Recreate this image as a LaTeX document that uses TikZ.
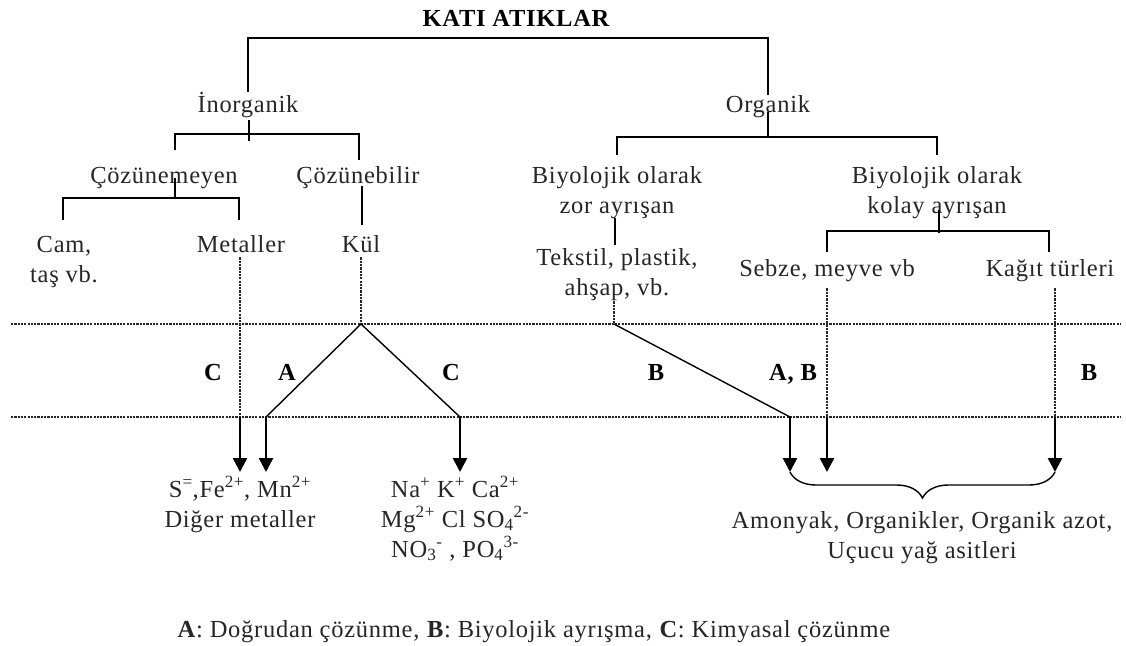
\documentclass[tikz,border=0pt]{standalone}
\usepackage{fontspec}
\setmainfont{Liberation Serif}[LetterSpace=3]
\usetikzlibrary{arrows.meta,decorations.pathreplacing}

\begin{document}
\begin{tikzpicture}[
    x=1pt, y=-1pt,
    txt/.style={font=\fontsize{24.5}{30}\selectfont, text=black!85, inner sep=0pt, align=center, anchor=base},
    tag/.style={font=\fontsize{24.5}{30}\selectfont\bfseries, text=black, inner sep=0pt, anchor=base},
    branch/.style={line width=1.4pt},
    flow/.style={line width=1.8pt, black!85, dash pattern=on 2.2pt off 1.1pt},
    level/.style={line width=1.8pt, black!85, dash pattern=on 2.2pt off 1.1pt},
    slant/.style={line width=1.4pt},
    outlet/.style={line width=2.6pt, -{Triangle[width=14pt,length=14pt]}}
]
\useasboundingbox (0,0) rectangle (1126,645);

% tree (multi-line nodes sit on their last line)
\node[tag] (top) at (516,27) {KATI ATIKLAR};
\node[txt] (inorg) at (248,112) {İnorganik};
\node[txt] (org) at (768,112) {Organik};
\node[txt] (coz) at (164,183) {Çözünemeyen};
\node[txt] (cozb) at (358,183) {Çözünebilir};
\node[txt] (zor) at (617,213) {Biyolojik olarak\\zor ayrışan};
\node[txt] (kolay) at (937,213) {Biyolojik olarak\\kolay ayrışan};
\node[txt] (cam) at (64,282) {Cam,\\taş vb.};
\node[txt] (metal) at (241,252) {Metaller};
\node[txt] (kul) at (361,252) {Kül};
\node[txt] (tekstil) at (617,295) {Tekstil, plastik,\\ahşap, vb.};
\node[txt] (sebze) at (827,276) {Sebze, meyve vb};
\node[txt] (kagit) at (1050,276) {Kağıt türleri};

\coordinate (bar0) at (516,38);
\coordinate (bar1) at (249,134);
\coordinate (bar2) at (175,198);
\coordinate (bar3) at (768,137);
\coordinate (bar4) at (939,231);

\draw[branch] (inorg.north) |- (bar0) -| (org.north);
\draw[branch] (249,120) -- (249,141);
\draw[branch] (175,150) |- (bar1) -| (359,160);
\draw[branch] (175,178) -- (bar2);
\draw[branch] (63,220) |- (bar2) -| (239,220);
\draw[branch] (362,186) -- (362,225);
\draw[branch] (768,112) -- (bar3);
\draw[branch] (617,155) |- (bar3) -| (937,155);
\draw[branch] (615,218) -- (615,245);
\draw[branch] (939,210) -- (939,233);
\draw[branch] (827,252) |- (bar4) -| (1049,252);

% levels
\coordinate (lv1w) at (11,324);
\coordinate (lv1e) at (1120,324);
\coordinate (lv2w) at (11,417);
\coordinate (lv2e) at (1120,417);
\draw[level] (lv1w) -- (lv1e);
\draw[level] (lv2w) -- (lv2e);

\coordinate (kul-hi) at (361,324);
\coordinate (tek-hi) at (614,324);
\coordinate (met-lo) at (240,417);
\coordinate (a-lo) at (266,417);
\coordinate (c-lo) at (460,417);
\coordinate (b-lo) at (790,417);
\coordinate (seb-lo) at (827,417);
\coordinate (kag-lo) at (1055,417);

\draw[flow] ([yshift=-5pt]metal.south -| met-lo) -- (met-lo);
\draw[flow] ([yshift=-5pt]kul.south) -- (kul-hi);
\draw[flow] ([yshift=-1pt]tekstil.south -| tek-hi) -- (tek-hi);
\draw[flow] ([yshift=-7pt]sebze.south) -- (seb-lo);
\draw[flow] ([yshift=-7pt]kagit.south -| kag-lo) -- (kag-lo);

\draw[slant] (kul-hi) -- (a-lo);
\draw[slant] (kul-hi) -- (c-lo);
\draw[slant] (tek-hi) -- (b-lo);

\node[tag] (c1) at (213,380) {C};
\node[tag] (a1) at (287,380) {A};
\node[tag] (c2) at (451,380) {C};
\node[tag] (b1) at (656,380) {B};
\node[tag] (ab) at (793,380) {A, B};
\node[tag] (b2) at (1089,380) {B};

% products
\node[txt] (ionA) at (240,527) {S\textsuperscript{=},Fe\textsuperscript{2+}, Mn\textsuperscript{2+}\\Diğer metaller};
\node[txt] (ionC) at (455,557) {Na\textsuperscript{+} K\textsuperscript{+} Ca\textsuperscript{2+}\\Mg\textsuperscript{2+} Cl SO\textsubscript{4}\textsuperscript{2-}\\NO\textsubscript{3}\textsuperscript{-} , PO\textsubscript{4}\textsuperscript{3-}};
\node[txt] (prod) at (922,558) {Amonyak, Organikler, Organik azot,\\Uçucu yağ asitleri};

\draw[outlet] (met-lo) -- ++(0,55);
\draw[outlet] (a-lo) -- ++(0,55);
\draw[outlet] (c-lo) -- ++(0,55);
\draw[outlet] (b-lo) -- ++(0,55);
\draw[outlet] (seb-lo) -- ++(0,55);
\draw[outlet] (kag-lo) -- ++(0,55);

\coordinate (br-w) at (790,472);
\coordinate (br-e) at (1055,472);
\draw[branch, decorate, decoration={brace, mirror, amplitude=26pt}] (br-w) -- (br-e);

\node[txt] (legend) at (534,637) {\textbf{A}: Doğrudan çözünme, \textbf{B}: Biyolojik ayrışma, \textbf{C}: Kimyasal çözünme};

\end{tikzpicture}
\end{document}
